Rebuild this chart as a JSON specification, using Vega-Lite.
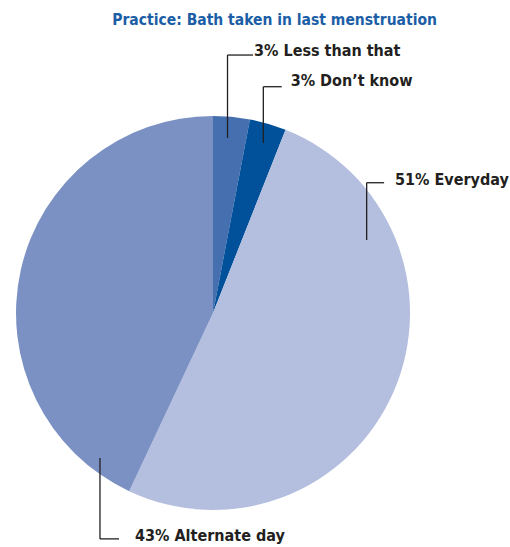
{
  "$schema": "https://vega.github.io/schema/vega-lite/v6.json",
  "width": 510,
  "height": 547,
  "autosize": {"type": "none"},
  "padding": 0,
  "background": "white",
  "config": {"view": {"stroke": null}},
  "datasets": {
    "slices": [
      {"category": "Less than that", "pct": 3, "order": 1},
      {"category": "Don't know", "pct": 3, "order": 2},
      {"category": "Everyday", "pct": 51, "order": 3},
      {"category": "Alternate day", "pct": 43, "order": 4}
    ],
    "leaders": [
      {"category": "Less than that", "x": 7.32, "y": 88.4, "x2": 7.32, "y2": 130.3},
      {"category": "Less than that", "x": 7.32, "y": 130.3, "x2": 20.2, "y2": 130.3},
      {"category": "Don't know", "x": 25.4, "y": 85.9, "x2": 25.4, "y2": 114.3},
      {"category": "Don't know", "x": 25.4, "y": 114.3, "x2": 34.7, "y2": 114.3},
      {"category": "Everyday", "x": 77.6, "y": 36.9, "x2": 77.6, "y2": 65.8},
      {"category": "Everyday", "x": 77.6, "y": 65.8, "x2": 86.4, "y2": 65.8},
      {"category": "Alternate day", "x": -57.1, "y": -73.2, "x2": -57.1, "y2": -114.1},
      {"category": "Alternate day", "x": -57.1, "y": -114.1, "x2": -47.5, "y2": -114.1}
    ],
    "labels": [
      {"label": "3% Less than that", "x": 20.7, "y": 129.8},
      {"label": "3% Don’t know", "x": 39.2, "y": 114.6},
      {"label": "51% Everyday", "x": 91.9, "y": 64.6},
      {"label": "43% Alternate day", "x": -39.4, "y": -115.4}
    ],
    "title": [
      {"text": "Practice: Bath taken in last menstruation", "x": 31.1, "y": 145.5}
    ]
  },
  "layer": [
    {
      "data": {"name": "slices"},
      "mark": {"type": "arc", "radius": 197, "stroke": null},
      "encoding": {
        "x": {"datum": 0, "type": "quantitative", "scale": {"domain": [-107.6, 150], "range": [0, 510], "nice": false, "zero": false}, "axis": null},
        "y": {"datum": 0, "type": "quantitative", "scale": {"domain": [-118.2, 158.1], "range": [547, 0], "nice": false, "zero": false}, "axis": null},
        "theta": {"field": "pct", "type": "quantitative", "stack": true},
        "order": {"field": "order", "type": "quantitative"},
        "color": {
          "field": "category", "type": "nominal", "legend": null,
          "scale": {"domain": ["Less than that", "Don't know", "Everyday", "Alternate day"],
                    "range": ["#466fb0", "#00509a", "#b4bedf", "#7b91c3"]}
        }
      }
    },
    {
      "data": {"name": "leaders"},
      "mark": {"type": "rule", "color": "#231f20", "strokeWidth": 1.3},
      "encoding": {
        "x": {"field": "x", "type": "quantitative", "scale": {"domain": [-107.6, 150], "range": [0, 510], "nice": false, "zero": false}, "axis": null},
        "y": {"field": "y", "type": "quantitative", "scale": {"domain": [-118.2, 158.1], "range": [547, 0], "nice": false, "zero": false}, "axis": null},
        "x2": {"field": "x2"},
        "y2": {"field": "y2"}
      }
    },
    {
      "data": {"name": "labels"},
      "mark": {"type": "text", "align": "left", "baseline": "alphabetic", "font": "DejaVu Sans Condensed", "fontWeight": "bold", "fontSize": 16, "color": "#231f20"},
      "encoding": {
        "x": {"field": "x", "type": "quantitative", "scale": {"domain": [-107.6, 150], "range": [0, 510], "nice": false, "zero": false}, "axis": null},
        "y": {"field": "y", "type": "quantitative", "scale": {"domain": [-118.2, 158.1], "range": [547, 0], "nice": false, "zero": false}, "axis": null},
        "text": {"field": "label"}
      }
    },
    {
      "data": {"name": "title"},
      "mark": {"type": "text", "align": "center", "baseline": "alphabetic", "font": "DejaVu Sans Condensed", "fontWeight": "bold", "fontSize": 15.5, "color": "#1b5ea6"},
      "encoding": {
        "x": {"field": "x", "type": "quantitative", "scale": {"domain": [-107.6, 150], "range": [0, 510], "nice": false, "zero": false}, "axis": null},
        "y": {"field": "y", "type": "quantitative", "scale": {"domain": [-118.2, 158.1], "range": [547, 0], "nice": false, "zero": false}, "axis": null},
        "text": {"field": "text"}
      }
    }
  ],
  "resolve": {"scale": {"x": "shared", "y": "shared"}}
}
